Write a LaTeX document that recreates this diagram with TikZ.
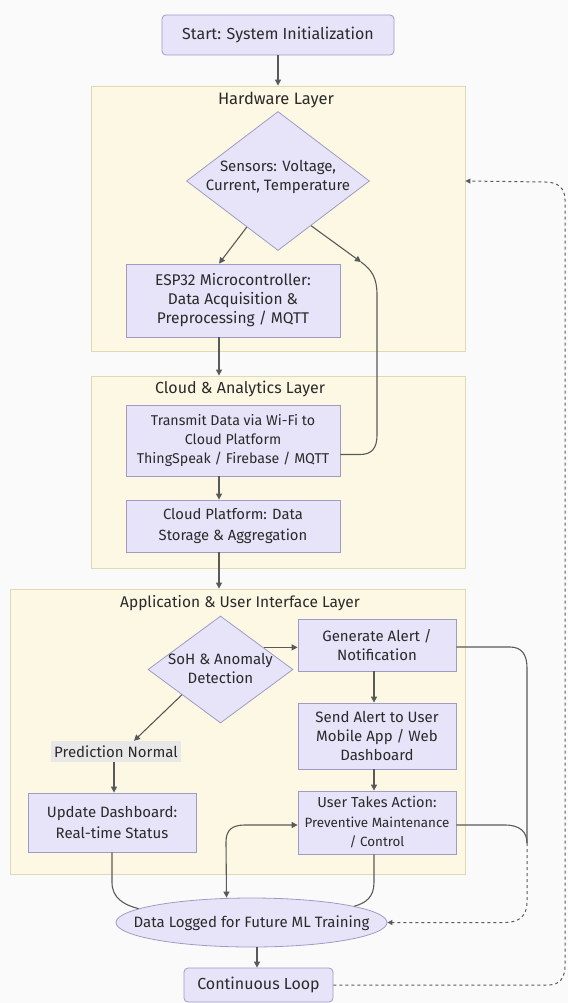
\documentclass[tikz,border=0pt]{standalone}
\usepackage{fontspec}
\setmainfont{Fira Sans}
\usetikzlibrary{arrows.meta,shapes.geometric,calc}
\definecolor{bgc}{HTML}{FAFAFA}
\definecolor{layfill}{HTML}{FCF8E3}
\definecolor{laydraw}{HTML}{E0DAB4}
\definecolor{nfill}{HTML}{E7E4F9}
\definecolor{ndraw}{HTML}{A09BC4}
\definecolor{ecol}{HTML}{595959}
\definecolor{tcol}{HTML}{2A2A2A}
\definecolor{pfill}{HTML}{E8E8E8}
\newcommand{\zbox}[2][-0.3em]{\raisebox{#1}[0pt][0pt]{\makebox[0pt]{\begin{tabular}{@{}c@{}}#2\end{tabular}}}}
\newcommand{\fsz}[1]{\fontsize{#1}{19}\selectfont}
\begin{document}
\begin{tikzpicture}[x=1pt,y=-1pt,
  every node/.style={font=\fsz{15}, text=tcol},
  layer/.style={draw=laydraw, fill=layfill, line width=0.8pt, inner sep=0pt},
  ltitle/.style={inner sep=0pt},
  proc/.style={draw=ndraw, fill=nfill, line width=0.8pt, inner sep=1pt, align=center},
  rproc/.style={proc, rounded corners=4pt},
  dec/.style={diamond, draw=ndraw, fill=nfill, line width=0.8pt, inner sep=0pt},
  oval/.style={ellipse, draw=ndraw, fill=nfill, line width=0.8pt, inner sep=0pt},
  plabel/.style={fill=pfill, inner sep=0pt},
  line/.style={draw=ecol, line width=1.1pt},
  edge/.style={line, -{Triangle[length=6pt,width=6pt]}},
  edgetwo/.style={line, {Triangle[length=6pt,width=6pt]}-{Triangle[length=6pt,width=6pt]}},
  dedge/.style={draw=ecol, line width=1pt, dash pattern=on 3pt off 3pt, -{Triangle[length=5pt,width=5pt]}}
]
\useasboundingbox (0,0) rectangle (568,1003);
\fill[bgc] (0,0) rectangle (568,1003);

% layers
\node[layer, minimum width=374pt, minimum height=265pt] (hw) at (278,218.5) {};
\node[ltitle, font=\fsz{16.5}] (hwt) at (276,100) {Hardware Layer};
\node[layer, minimum width=374pt, minimum height=192pt] (cloud) at (278,472) {};
\node[ltitle, font=\fsz{16}] (cloudt) at (240,389) {Cloud \& Analytics Layer};
\node[layer, minimum width=455pt, minimum height=285pt] (app) at (237.5,731.5) {};
\node[ltitle, font=\fsz{15.5}] (appt) at (240,603) {Application \& User Interface Layer};

% nodes
\node[rproc, minimum width=232pt, minimum height=40pt, font=\fsz{16}] (start) at (278,35) {Start: System Initialization};
\node[dec, minimum width=183pt, minimum height=139pt] (sens) at (278,181) {\zbox[0em]{Sensors: Voltage,\\ Current, Temperature}};
\node[proc, minimum width=214pt, minimum height=73pt, font=\fsz{15.5}] (esp) at (233,300.5) {ESP32 Microcontroller:\\ Data Acquisition \&\\ Preprocessing / MQTT};
\node[proc, minimum width=214pt, minimum height=71pt, font=\fsz{14.2}] (trans) at (233,440.5) {Transmit Data via Wi-Fi to\\ Cloud Platform\\ ThingSpeak / Firebase / MQTT};
\node[proc, minimum width=214pt, minimum height=52pt, font=\fsz{14.8}] (cplat) at (233,526) {Cloud Platform: Data\\[2pt] Storage \& Aggregation};
\node[dec, minimum width=145pt, minimum height=107pt] (soh) at (220.5,669.5) {\zbox{SoH \& Anomaly\\ Detection}};
\node[proc, minimum width=158pt, minimum height=52pt] (gen) at (377,645) {Generate Alert /\\ Notification};
\node[proc, minimum width=158pt, minimum height=66pt] (send) at (377,736) {Send Alert to User\\ Mobile App / Web\\ Dashboard};
\node[proc, minimum width=158pt, minimum height=63pt] (usr) at (377,822.5) {{\fsz{14.5}User Takes Action:}\\[1pt] {\fontsize{13.4}{17}\selectfont Preventive Maintenance}\\ {\fontsize{13.4}{16}\selectfont / Control}};
\node[plabel, minimum width=130pt, minimum height=21pt] (pred) at (116,751.5) {Prediction Normal};
\node[proc, minimum width=168pt, minimum height=59pt] (upd) at (112,822.5) {Update Dashboard:\\[2pt] Real-time Status};
\node[oval, minimum width=271pt, minimum height=49pt] (log) at (251.5,922.5) {\zbox{Data Logged for Future ML Training}};
\node[rproc, minimum width=149pt, minimum height=34pt, font=\fsz{16}] (loop) at (258.5,985) {Continuous Loop};

% edges
\draw[edge] (start.south) -- (hw.north);
\draw[edge] ($(sens.west)!0.66!(sens.south)$) -- ([xshift=-14pt]esp.north);
\coordinate (bend) at (361,262);
\draw[edge] ($(sens.east)!0.64!(sens.south)$) -- (bend);
\draw[line] (bend) .. controls (372,270) and (377,278) .. (377,295) -- (377,435) .. controls (377,448) and (372,454.5) .. (360,454.5) -- ([yshift=-14pt]trans.east);
\draw[edge] ([xshift=-14pt]esp.south) -- ([xshift=-14pt]esp.south |- cloud.north);
\draw[edge] ([xshift=-14pt]trans.south) -- ([xshift=-14pt]cplat.north);
\draw[edge] ([xshift=-14pt]cplat.south) -- ([xshift=-14pt]cplat.south |- app.north);

\coordinate (s1) at ($(soh.north)!0.59!(soh.east)$);
\draw[edge] (s1) -- (s1 -| gen.west);
\draw[edge] ($(soh.west)!0.47!(soh.south)$) -- ([xshift=18pt]pred.north);
\draw[edge] ([xshift=-2pt]pred.south) -- ([xshift=-2pt]pred.south |- upd.north);
\draw[edge] ([xshift=-3pt]gen.south) -- ([xshift=-3pt]send.north);
\draw[edge] ([xshift=-3pt]send.south) -- ([xshift=-3pt]usr.north);

\draw[line] (upd.south) -- ++(0,30) .. controls (112,898) and (124,905) .. (log.173);
\draw[line] ([xshift=-3pt]usr.south) -- ++(0,28) .. controls (374,897) and (366,903) .. (log.9);
\draw[edgetwo] ($(log.north)+(-25,0)$) -- (226,842) .. controls (226,830) and (232,825) .. (245,825) -- ([yshift=-2.5pt]usr.west);

\coordinate (j) at (527,843);
\draw[line] ([yshift=-2pt]gen.east) -- (510,647) .. controls (522,647) and (527,655) .. (527,668) -- (j);
\draw[line] ([yshift=-2.5pt]usr.east) -- (505,825) .. controls (520,825) and (527,832) .. (j);
\draw[dedge] (j) -- (527,902) .. controls (527,915) and (520,922.5) .. (505,922.5) -- (log.east);

\draw[edge] ([xshift=-1.5pt]loop.north |- log.south) -- ([xshift=-1.5pt]loop.north);
\draw[dedge] (loop.east) -- (548,985) .. controls (560,985) and (565,978) .. (565,965) -- (565,200) .. controls (565,188) and (558,182) .. (545,182) -- (hw.east |- sens.east);
\end{tikzpicture}
\end{document}
